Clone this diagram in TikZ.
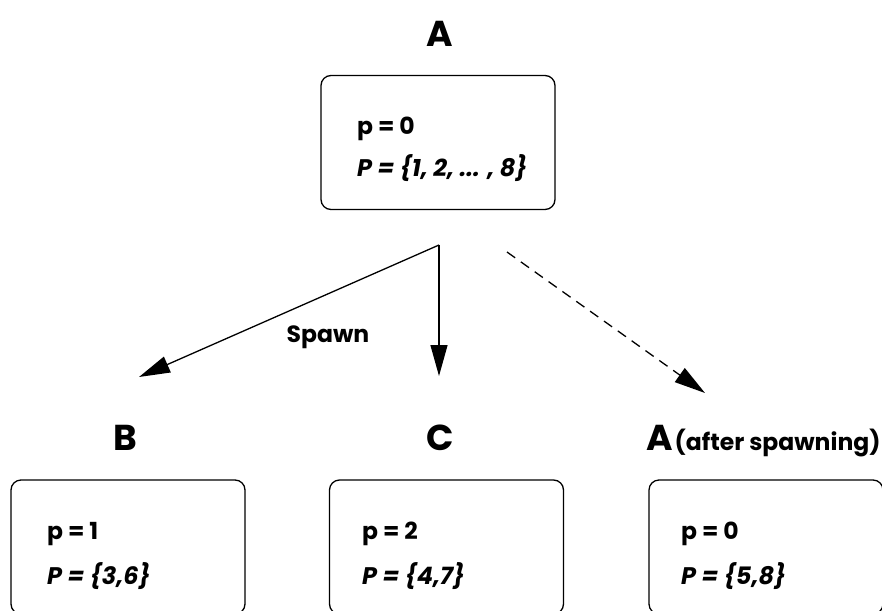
\documentclass[tikz,border=0pt]{standalone}
\usepackage{fontspec}
\setmainfont{Poppins}
\usetikzlibrary{arrows.meta}
\begin{document}
\begin{tikzpicture}[x=1pt,y=-1pt,
  box/.style={draw, line width=1.3pt, rounded corners=10pt, minimum width=234pt, minimum height=134pt, inner sep=0pt},
  title/.style={anchor=base, inner sep=0pt, font=\bfseries\fontsize{36}{36}\selectfont},
  sub/.style={anchor=base west, inner sep=0pt, font=\bfseries\fontsize{23.5}{23.5}\selectfont},
  val/.style={anchor=base west, inner sep=0pt, font=\bfseries\fontsize{23.5}{23.5}\selectfont},
  set/.style={anchor=base west, inner sep=0pt, font=\bfseries\itshape\fontsize{24}{24}\selectfont},
  lbl/.style={inner sep=0pt, font=\bfseries\fontsize{23.5}{23.5}\selectfont},
  arr/.style={line width=1.3pt, -{Triangle[length=31pt,width=17pt]}},
  darr/.style={arr, dash pattern=on 10pt off 7pt}]
\useasboundingbox (0,0) rectangle (882,610);
% top
\node[title] (tA) at (440,46) {A};
\node[box] (boxA) at (438,142.5) {};
\node[val] (pA) at (357,134) {p = 0};
\node[set] (PA) at (357,176) {P = \{1, 2, ... , 8\}};
% bottom
\node[title] (tB) at (125,450) {B};
\node[title] (tC) at (440,450) {C};
\node[title] (tA2) at (660,450) {A};
\node[sub] (after) at ([xshift=1pt]tA2.base east) {(after spawning)};
\node[box] (boxB) at (128,547) {};
\node[box] (boxC) at (446.5,547) {};
\node[box] (boxA2) at (766,547) {};
\node[val] (pB) at (47,539) {p = 1};
\node[set] (PB) at (47,584) {P = \{3,6\}};
\node[val] (pC) at (362,539) {p = 2};
\node[set] (PC) at (362,584) {P = \{4,7\}};
\node[val] (pA2) at (681,539) {p = 0};
\node[set] (PA2) at (681,584) {P = \{5,8\}};
% connectors
\coordinate (fork) at (439,245);
\coordinate (toB) at (139,377);
\coordinate (toC) at (439,376);
\coordinate (ds) at (507,252);
\coordinate (toA2) at (705,393);
\draw[arr] (fork) -- (toB);
\draw[arr] (fork) -- (toC);
\draw[darr] (ds) -- (toA2);
\node[lbl] (spawn) at (328,337) {Spawn};
\end{tikzpicture}
\end{document}
